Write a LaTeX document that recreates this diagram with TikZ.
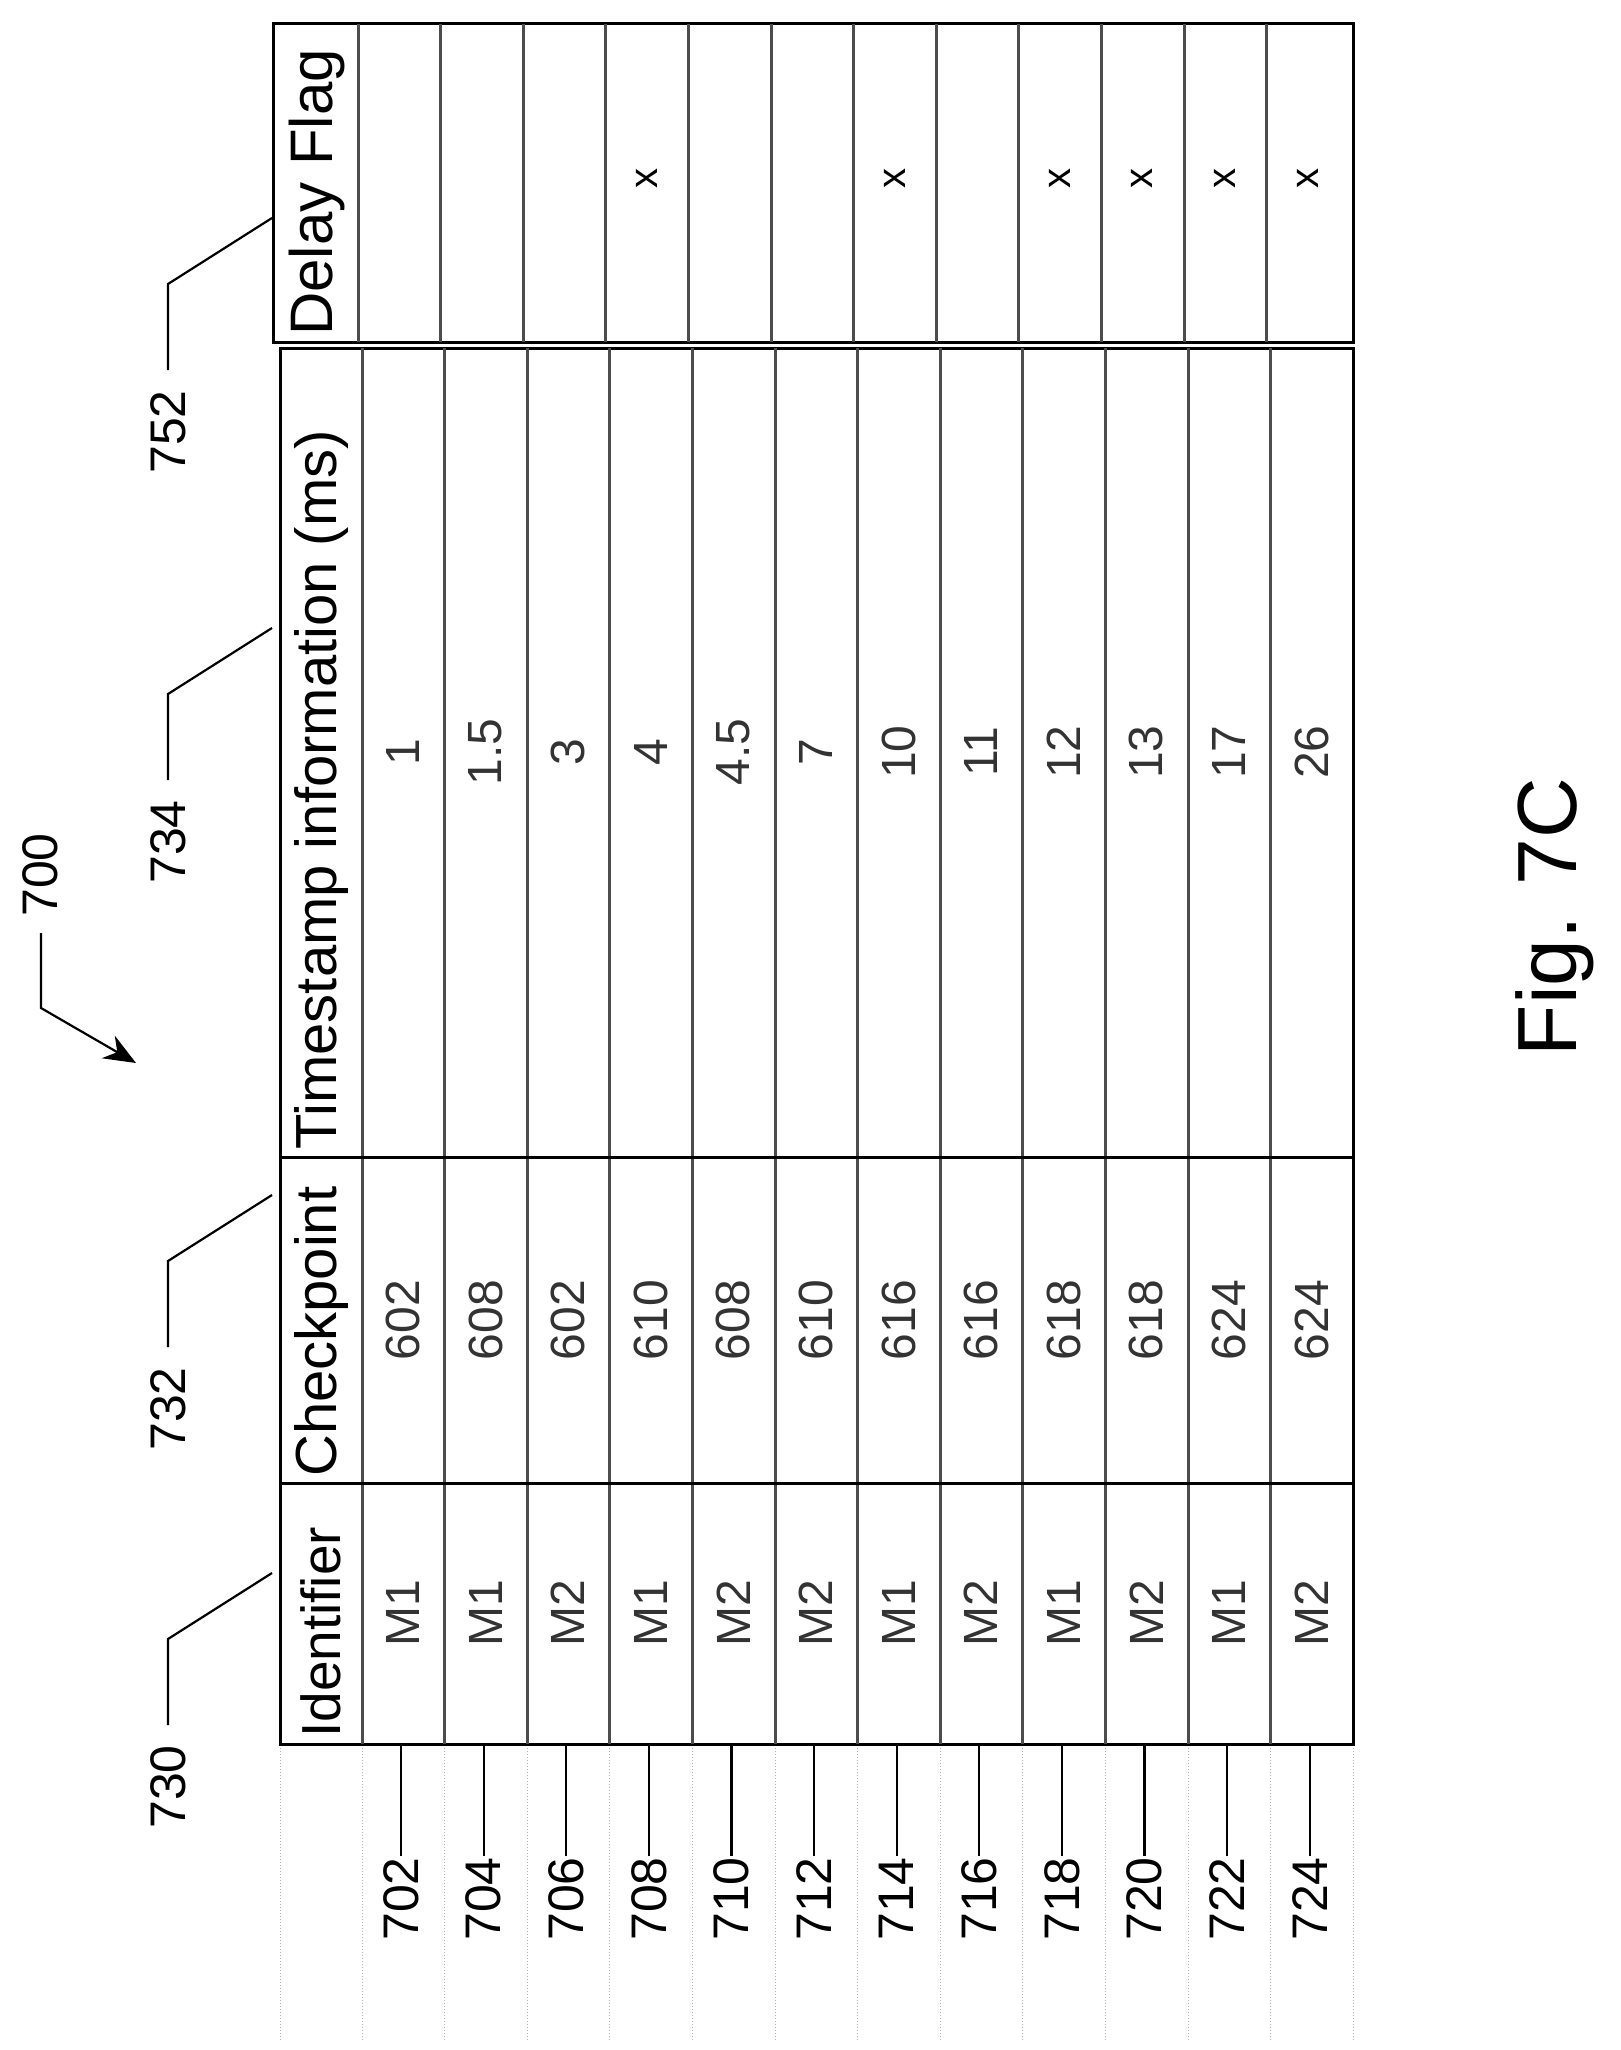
\documentclass[tikz,border=0pt]{standalone}
\usepackage{fontspec}
\setmainfont{Liberation Sans}
\usetikzlibrary{arrows.meta}
\begin{document}
\begin{tikzpicture}[x=1pt,y=-1pt,
  frame/.style={draw=black,line width=3pt},
  rowline/.style={draw=black!70,line width=3pt},
  lead/.style={draw=black,line width=2.2pt},
  faint/.style={draw=black!30,line width=1pt,dotted},
  hdr/.style={rotate=90,anchor=west,inner sep=0pt,font=\fontsize{58}{60}\selectfont},
  val/.style={rotate=90,inner sep=0pt,text=black!80,font=\fontsize{48}{50}\selectfont},
  ref/.style={rotate=90,inner sep=0pt,font=\fontsize{50}{52}\selectfont}]
\useasboundingbox (0,0) rectangle (1621,2050);
\fill[white] (0,0) rectangle (1621,2050);
% faint halftone lines below table
\foreach \i in {0,...,12}{
  \pgfmathsetmacro{\xx}{362+\i*82.6}
  \draw[faint] (\xx,1748) -- (\xx,2040);}
\draw[faint] (280,1748) -- (280,2040);
% main table
\draw[frame] (280,348) rectangle (1353,1744);
\draw[frame] (273,24) rectangle (1353,342);
\foreach \i in {0,...,11}{
  \pgfmathsetmacro{\xx}{362+\i*82.6}
  \draw[rowline] (\xx,348) -- (\xx,1744);
  \draw[rowline] (\xx-4,24) -- (\xx-4,342);}
\draw[frame] (280,1483) -- (1353,1483);
\draw[frame] (280,1157) -- (1353,1157);
% headers
\node[hdr,font=\fontsize{55}{57}\selectfont] (hid) at (321,1738) {Identifier};
\node[hdr] (hcp) at (321,1477) {Checkpoint};
\node[hdr] (hts) at (321,1150) {Timestamp information (ms)};
\node[hdr,font=\fontsize{60}{62}\selectfont] (hdf) at (317,336) {Delay Flag};
% data
\foreach \n/\id/\cp/\ts/\fl [count=\i from 0] in {702/M1/602/1/,704/M1/608/1.5/,706/M2/602/3/,708/M1/610/4/x,710/M2/608/4.5/,712/M2/610/7/,714/M1/616/10/x,716/M2/616/11/,718/M1/618/12/x,720/M2/618/13/x,722/M1/624/17/x,724/M2/624/26/x}{
  \pgfmathsetmacro{\xc}{403+\i*82.6}
  \node[val] (id\i) at (\xc,1613) {\id};
  \node[val] (cp\i) at (\xc,1320) {\cp};
  \node[val] (ts\i) at (\xc,752) {\ts};
  \node[val,text=black,font=\fontsize{40}{42}\selectfont] (fl\i) at (\xc-4,178) {\fl};
  \node[ref,anchor=east] (r\i) at (\xc-2,1857) {\n};
  \coordinate (rt\i) at (\xc-2,1744);
  \draw[lead] ([yshift=1pt]r\i.east) -- (rt\i);
}
% column reference labels
\foreach \nm/\lab/\top in {l730/730/1745,l732/732/1367,l734/734/800,l752/752/390}{
  \node[ref,anchor=east] (\nm) at (168,\top) {\lab};
}
\coordinate (e730) at (272,1573);
\coordinate (e732) at (272,1195);
\coordinate (e734) at (272,628);
\coordinate (e752) at (272,218);
\foreach \nm in {730,732,734,752}{
  \draw[lead] ([yshift=20pt]l\nm.east) -- ++(0,-86) -- (e\nm);
}
% 700
\node[ref,anchor=center] (l700) at (40,875) {700};
\coordinate (a700) at (136,1063);
\draw[lead,-{Stealth[length=32pt,width=26pt]}] (41,933) -- (41,1008) -- (a700);
% figure caption
\node[rotate=90,inner sep=0pt,font=\fontsize{84}{86}\selectfont] (fig) at (1555,917) {Fig. 7C};
\end{tikzpicture}
\end{document}
